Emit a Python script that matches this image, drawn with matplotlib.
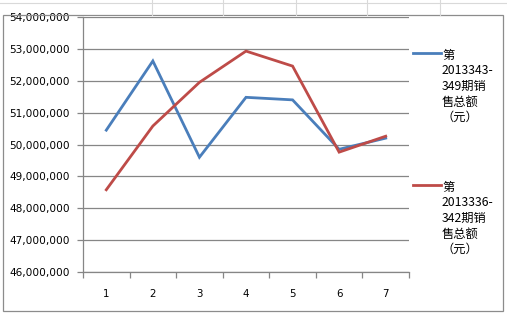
import matplotlib.pyplot as plt
from matplotlib.ticker import FuncFormatter, FixedLocator
from matplotlib.lines import Line2D
from matplotlib.patches import Rectangle

plt.rcParams['font.family'] = ['DejaVu Sans', 'Noto Sans CJK SC']

periods = [1, 2, 3, 4, 5, 6, 7]
sales_343_349 = [50450000, 52620000, 49600000, 51480000, 51400000, 49850000, 50200000]
sales_336_342 = [48580000, 50580000, 51950000, 52930000, 52460000, 49760000, 50260000]
label_a = '第\n2013343-\n349期销\n售总额\n（元）'
label_b = '第\n2013336-\n342期销\n售总额\n（元）'

blue = '#4A7EBB'
red = '#BE4B48'
grid_gray = '#868686'

fig = plt.figure(figsize=(5.07, 3.15), dpi=100)
fig.patch.set_facecolor('white')

# faint spreadsheet cells behind the chart
for xv in [152, 223, 296, 367, 440]:
    fig.add_artist(Line2D([xv / 507, xv / 507], [1 - 15 / 315, 1], color='#D9D9D9', lw=0.8))
fig.add_artist(Line2D([0, 1], [1 - 3 / 315, 1 - 3 / 315], color='#D9D9D9', lw=0.8))
# chart frame
fig.add_artist(Rectangle((3 / 507, 4 / 315), 500 / 507, 296 / 315, fill=False,
                         edgecolor='#8C8C8C', lw=0.9, transform=fig.transFigure))

ax = fig.add_axes([83 / 507, 1 - 272 / 315, (409 - 83) / 507, (272 - 17) / 315])
ax.plot(periods, sales_343_349, color=blue, lw=2.0, solid_joinstyle='miter')
ax.plot(periods, sales_336_342, color=red, lw=2.0, solid_joinstyle='miter')

ax.set_xlim(0.5, 7.5)
ax.set_ylim(46000000, 54000000)
ax.set_yticks(range(46000000, 54000001, 1000000))
ax.yaxis.set_major_formatter(FuncFormatter(lambda v, p: f'{int(v):,}'))
ax.grid(axis='y', color=grid_gray, lw=0.9)
ax.set_axisbelow(True)

ax.set_xticks(periods)
ax.set_xticklabels([str(p) for p in periods])
ax.xaxis.set_minor_locator(FixedLocator([i + 0.5 for i in range(0, 8)]))
ax.tick_params(axis='x', which='major', length=0, pad=12, labelsize=7.4)
ax.tick_params(axis='x', which='minor', length=4, color=grid_gray, width=0.9, direction='out')
ax.tick_params(axis='y', length=4.3, color=grid_gray, width=0.9, pad=5, labelsize=7.6)

for s in ['top', 'right']:
    ax.spines[s].set_visible(False)
for s in ['left', 'bottom']:
    ax.spines[s].set_color(grid_gray)
    ax.spines[s].set_linewidth(0.9)

# legend drawn at the right
for ly, col, lab in [(53, blue, label_a), (185, red, label_b)]:
    fig.add_artist(Line2D([413 / 507, 441 / 507], [1 - ly / 315, 1 - ly / 315], color=col, lw=2.0))
    fig.text(442 / 507, 1 - (ly - 4) / 315, lab, fontsize=8.8, va='top', ha='left',
             linespacing=1.25, family=['Noto Sans CJK SC', 'DejaVu Sans'])

fig.savefig('out.png', dpi=100)
